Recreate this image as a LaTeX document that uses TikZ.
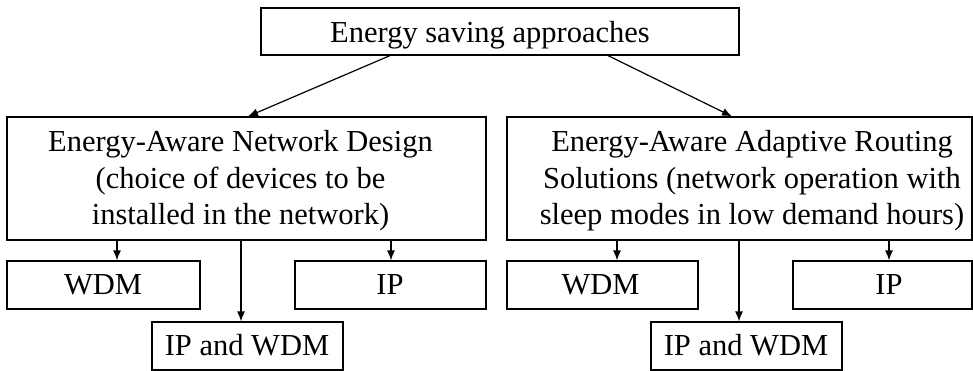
\documentclass[tikz,border=0pt]{standalone}
\usepackage{fontspec}
\setmainfont{Liberation Serif}
\usetikzlibrary{arrows.meta}
\begin{document}
\begin{tikzpicture}[x=1pt,y=-1pt,
  box/.style={draw,line width=1.2pt,inner sep=0pt},
  txt/.style={inner sep=0pt,align=center,font=\fontsize{30.5}{36.5}\selectfont},
  arr/.style={line width=1.2pt,-{Latex[length=10pt,width=8pt]}}]
\useasboundingbox (0,0) rectangle (973,371);
\node[box,minimum width=478,minimum height=47] (top) at (500,31.5) {};
\node[txt] (toptxt) at (490,35.5) {Energy saving approaches};
\node[box,minimum width=479,minimum height=123] (left) at (246.5,178.5) {};
\node[txt] (lefttxt) at (240.5,181) {Energy-Aware Network Design\\(choice of devices to be\\installed in the network)};
\node[box,minimum width=465,minimum height=123] (right) at (739.5,178.5) {};
\node[txt] (righttxt) at (752,181) {Energy-Aware Adaptive Routing\\Solutions (network operation with\\sleep modes in low demand hours)};
\node[box,minimum width=193,minimum height=48] (lwdm) at (103.5,285) {};
\node[txt] (lwdmtxt) at (103,285) {WDM};
\node[box,minimum width=191,minimum height=48] (lip) at (390.5,285) {};
\node[txt] (liptxt) at (390,285) {IP};
\node[box,minimum width=191,minimum height=48] (lipw) at (247.5,346) {};
\node[txt] (lipwtxt) at (247,345) {IP and WDM};
\node[box,minimum width=191,minimum height=48] (rwdm) at (602.5,285) {};
\node[txt] (rwdmtxt) at (600.5,285) {WDM};
\node[box,minimum width=179,minimum height=48] (rip) at (882.5,285) {};
\node[txt] (riptxt) at (889,285) {IP};
\node[box,minimum width=191,minimum height=48] (ripw) at (746.5,346) {};
\node[txt] (ripwtxt) at (746,345) {IP and WDM};
\coordinate (t1) at (390,0); \coordinate (e1) at (248,0);
\coordinate (t2) at (608,0); \coordinate (e2) at (732,0);
\draw[arr] (top.south -| t1) -- (left.north -| e1);
\draw[arr] (top.south -| t2) -- (right.north -| e2);
\coordinate (a1) at (117,0); \coordinate (a2) at (241,0); \coordinate (a3) at (391,0);
\coordinate (b1) at (617,0); \coordinate (b2) at (739,0); \coordinate (b3) at (889,0);
\draw[arr] (left.south -| a1) -- (lwdm.north -| a1);
\draw[arr] (left.south -| a2) -- (lipw.north -| a2);
\draw[arr] (left.south -| a3) -- (lip.north -| a3);
\draw[arr] (right.south -| b1) -- (rwdm.north -| b1);
\draw[arr] (right.south -| b2) -- (ripw.north -| b2);
\draw[arr] (right.south -| b3) -- (rip.north -| b3);
\end{tikzpicture}
\end{document}
